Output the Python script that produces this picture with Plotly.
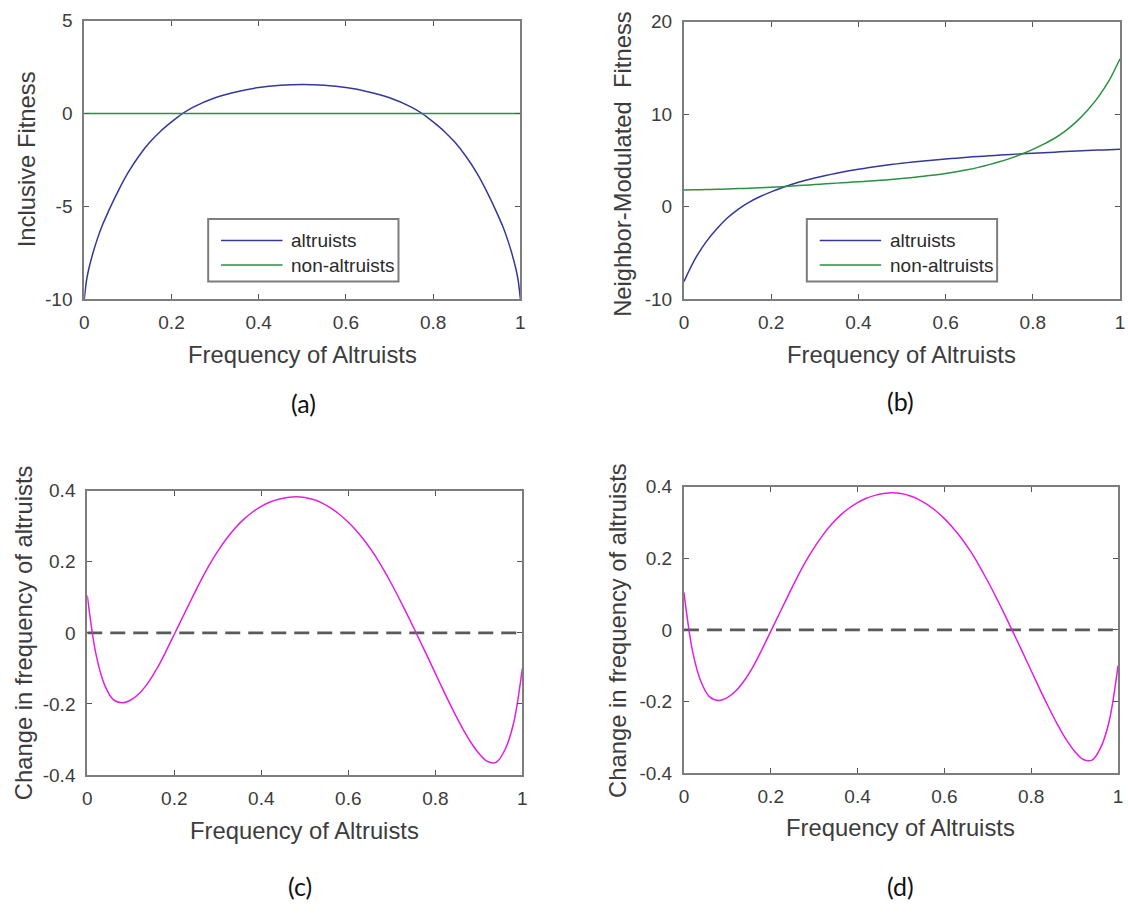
import plotly.graph_objects as go

# ---------------- data ----------------
# (a) inclusive fitness vs. frequency of altruists
a_x = [0, 0.005, 0.01, 0.02, 0.03, 0.04, 0.05, 0.075, 0.1, 0.125, 0.15, 0.175, 0.2, 0.225,
       0.25, 0.3, 0.35, 0.4, 0.45, 0.5, 0.55, 0.6, 0.65, 0.7, 0.75, 0.775, 0.8, 0.825,
       0.85, 0.875, 0.9, 0.925, 0.95, 0.96, 0.97, 0.98, 0.99, 0.995, 1.0]
a_altruists = [-10.0, -9.0, -8.4, -7.5, -6.75, -6.1, -5.55, -4.3, -3.2, -2.3, -1.55, -0.95,
               -0.45, 0.0, 0.35, 0.85, 1.18, 1.4, 1.52, 1.56, 1.52, 1.4, 1.18, 0.85, 0.35,
               0.0, -0.45, -0.95, -1.55, -2.3, -3.2, -4.3, -5.55, -6.1, -6.75, -7.5, -8.4,
               -9.0, -10.0]
a_nonaltruists = [0.0] * len(a_x)

# (b) neighbor-modulated fitness
b_x = [0, 0.025, 0.05, 0.075, 0.1, 0.125, 0.15, 0.175, 0.2, 0.225, 0.25, 0.275, 0.3, 0.325,
       0.35, 0.375, 0.4, 0.425, 0.45, 0.475, 0.5, 0.525, 0.55, 0.575, 0.6, 0.625, 0.65,
       0.675, 0.7, 0.725, 0.75, 0.775, 0.8, 0.825, 0.85, 0.875, 0.9, 0.925, 0.95, 0.975, 1.0]
b_altruists = [-8.1, -5.7, -3.85, -2.4, -1.2, -0.25, 0.5, 1.1, 1.6, 2.05, 2.45, 2.8, 3.1,
               3.37, 3.62, 3.85, 4.05, 4.23, 4.4, 4.56, 4.7, 4.83, 4.95, 5.05, 5.15, 5.25,
               5.35, 5.43, 5.5, 5.58, 5.65, 5.72, 5.78, 5.84, 5.9, 5.96, 6.02, 6.07, 6.12,
               6.16, 6.2]
b_nonaltruists = [1.8, 1.82, 1.85, 1.88, 1.92, 1.96, 2.0, 2.05, 2.1, 2.17, 2.25, 2.32, 2.4,
                  2.47, 2.55, 2.62, 2.7, 2.77, 2.85, 2.95, 3.05, 3.17, 3.3, 3.44, 3.6, 3.79,
                  4.0, 4.25, 4.55, 4.88, 5.25, 5.7, 6.2, 6.77, 7.4, 8.2, 9.2, 10.4, 11.85,
                  13.65, 16.0]

# (c) and (d) change in frequency of altruists
c_x = [0, 0.02, 0.04, 0.06, 0.08, 0.1, 0.12, 0.14, 0.16, 0.18, 0.2, 0.22, 0.24, 0.26,
       0.28, 0.3, 0.32, 0.34, 0.36, 0.38, 0.4, 0.42, 0.44, 0.46, 0.48, 0.5, 0.52, 0.54,
       0.56, 0.58, 0.6, 0.62, 0.64, 0.66, 0.68, 0.7, 0.72, 0.74, 0.76, 0.78, 0.8, 0.82,
       0.84, 0.86, 0.88, 0.9, 0.92, 0.94, 0.96, 0.98, 1.0]
c_change = [0.105, -0.06, -0.147, -0.188, -0.197, -0.189, -0.17, -0.14, -0.101, -0.054,
            -0.004, 0.046, 0.096, 0.145, 0.19, 0.23, 0.265, 0.295, 0.32, 0.34, 0.356,
            0.368, 0.376, 0.381, 0.383, 0.381, 0.375, 0.365, 0.351, 0.333, 0.311, 0.285,
            0.255, 0.22, 0.18, 0.136, 0.089, 0.04, -0.011, -0.062, -0.114, -0.166, -0.216,
            -0.263, -0.305, -0.339, -0.362, -0.364, -0.329, -0.253, -0.1]
d_x = c_x
d_change = c_change

zero_x = [0, 1]
zero_y = [0, 0]

freq_ticks = [0, 0.2, 0.4, 0.6, 0.8, 1]
freq_ticktext = ["0", "0.2", "0.4", "0.6", "0.8", "1"]
a_yticks = [-10, -5, 0, 5]
a_yticktext = ["-10", "-5", "0", "5"]
b_yticks = [-10, 0, 10, 20]
b_yticktext = ["-10", "0", "10", "20"]
c_yticks = [-0.4, -0.2, 0, 0.2, 0.4]
c_yticktext = ["-0.4", "-0.2", "0", "0.2", "0.4"]

series_names = ["altruists", "non-altruists"]
panel_labels = ["(a)", "(b)", "(c)", "(d)"]
x_title = "Frequency of Altruists"
y_titles = ["Inclusive Fitness", "Neighbor-Modulated  Fitness",
            "Change in frequency of altruists", "Change in frequency of altruists"]

# ---------------- styling ----------------
W, H = 1128, 914
BLUE = "#34389a"
GREEN = "#2a9140"
MAGENTA = "#e21fe2"
AXIS_GRAY = "#7d7d7d"
TEXT_GRAY = "#3c3c3c"
SANS = "Liberation Sans, Arial, Helvetica, sans-serif"


def px(x):
    return x / W


def py(y):
    return 1 - y / H


fig = go.Figure()

line_kw = dict(mode="lines", line_shape="spline", showlegend=False, hoverinfo="skip")

fig.add_trace(go.Scatter(x=a_x, y=a_altruists, xaxis="x", yaxis="y",
                         line=dict(color=BLUE, width=1.5, smoothing=0.8), **line_kw))
fig.add_trace(go.Scatter(x=a_x, y=a_nonaltruists, xaxis="x", yaxis="y",
                         line=dict(color=GREEN, width=1.5), **line_kw))
fig.add_trace(go.Scatter(x=b_x, y=b_altruists, xaxis="x2", yaxis="y2",
                         line=dict(color=BLUE, width=1.5, smoothing=0.8), **line_kw))
fig.add_trace(go.Scatter(x=b_x, y=b_nonaltruists, xaxis="x2", yaxis="y2",
                         line=dict(color=GREEN, width=1.5, smoothing=0.8), **line_kw))
for xa, ya, xs, ys in (("x3", "y3", c_x, c_change), ("x4", "y4", d_x, d_change)):
    fig.add_trace(go.Scatter(x=zero_x, y=zero_y, xaxis=xa, yaxis=ya, mode="lines",
                             line=dict(color="#5a5a5a", width=2.6, dash="15px,8px"),
                             showlegend=False, hoverinfo="skip"))
    fig.add_trace(go.Scatter(x=xs, y=ys, xaxis=xa, yaxis=ya,
                             line=dict(color=MAGENTA, width=1.5, smoothing=0.9), **line_kw))

axis_common = dict(showline=True, linecolor=AXIS_GRAY, linewidth=2, mirror="ticks",
                   ticks="inside", ticklen=5, tickwidth=1.2, tickcolor="#555555",
                   showgrid=False, zeroline=False, fixedrange=True,
                   tickfont=dict(family=SANS, size=19, color=TEXT_GRAY))

# pixel boxes of the four plot areas: (left, right, top, bottom)
boxes = [(80, 520, 11, 296), (685, 1125, 12, 296), (83, 522, 492, 783), (685, 1123, 488, 781)]
yspecs = [([-10, 5], a_yticks, a_yticktext), ([-10, 20], b_yticks, b_yticktext),
          ([-0.4, 0.4], c_yticks, c_yticktext), ([-0.4, 0.4], c_yticks, c_yticktext)]

layout = dict(width=W, height=H, margin=dict(l=0, r=0, t=0, b=0),
              paper_bgcolor="white", plot_bgcolor="white", showlegend=False)
for i, ((l, r, t, b), (yr, yt, ytt)) in enumerate(zip(boxes, yspecs)):
    sfx = "" if i == 0 else str(i + 1)
    layout["xaxis" + sfx] = dict(axis_common, domain=[px(l), px(r)], range=[0, 1],
                                 tickvals=freq_ticks, ticktext=freq_ticktext,
                                 anchor="y" + sfx, ticklabelstandoff=5)
    layout["yaxis" + sfx] = dict(axis_common, domain=[py(b), py(t)], range=yr,
                                 tickvals=yt, ticktext=ytt,
                                 anchor="x" + sfx, ticklabelstandoff=6)
fig.update_layout(**layout)

annotations = []
# axis titles and panel labels
x_title_pos = [(300, 353), (905, 353), (302, 840), (904, 837)]
y_title_pos = [(22, 153), (623, 157), (19, 637), (618, 635)]
label_pos = [(301, 402), (904, 400), (298, 897), (904, 897)]
for i in range(4):
    annotations.append(dict(x=px(x_title_pos[i][0]), y=py(x_title_pos[i][1]),
                            xref="paper", yref="paper", text=x_title, showarrow=False,
                            xanchor="center", yanchor="middle",
                            font=dict(family=SANS, size=23.8, color=TEXT_GRAY)))
    annotations.append(dict(x=px(y_title_pos[i][0]), y=py(y_title_pos[i][1]),
                            xref="paper", yref="paper", text=y_titles[i], showarrow=False,
                            textangle=-90, xanchor="center", yanchor="middle",
                            font=dict(family=SANS, size=23.8, color=TEXT_GRAY)))
    annotations.append(dict(x=px(label_pos[i][0]), y=py(label_pos[i][1]),
                            xref="paper", yref="paper", text=panel_labels[i], showarrow=False,
                            xanchor="center", yanchor="middle",
                            font=dict(family="Lato, Open Sans, sans-serif", size=25,
                                      color="#111111")))

# legend boxes for panels (a) and (b)
shapes = []
for box_left in (205, 809):
    shapes.append(dict(type="rect", xref="paper", yref="paper",
                       x0=px(box_left), x1=px(box_left + 192), y0=py(278), y1=py(214),
                       line=dict(color=AXIS_GRAY, width=2), fillcolor="white", layer="above"))
    for name, color, yc in ((series_names[0], BLUE, 236), (series_names[1], GREEN, 261)):
        shapes.append(dict(type="line", xref="paper", yref="paper",
                           x0=px(box_left + 13), x1=px(box_left + 75), y0=py(yc), y1=py(yc),
                           line=dict(color=color, width=1.5), layer="above"))
        annotations.append(dict(x=px(box_left + 82), y=py(yc), xref="paper", yref="paper",
                                text=name, showarrow=False, xanchor="left", yanchor="middle",
                                font=dict(family=SANS, size=19, color="#2a2a2a")))

fig.update_layout(annotations=annotations, shapes=shapes)
fig.write_html("out.html")
